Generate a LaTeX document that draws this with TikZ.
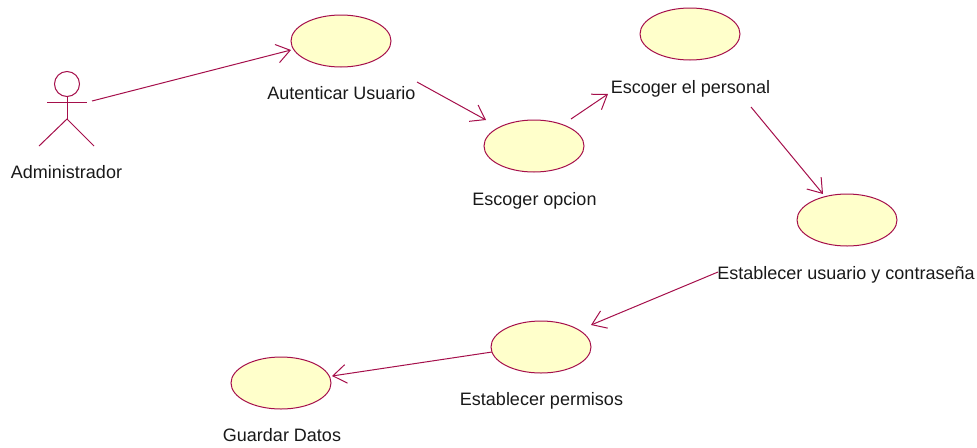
\documentclass[tikz,border=0pt]{standalone}
\usepackage{fontspec}
\setmainfont{Liberation Sans}
\usetikzlibrary{shapes.geometric,arrows.meta}
\definecolor{umlline}{RGB}{165,15,75}
\definecolor{umlfill}{RGB}{255,255,203}
\tikzset{
  usecase/.style={ellipse,draw=umlline,fill=umlfill,line width=0.75pt,minimum width=75pt,minimum height=39pt,inner sep=0pt},
  caselabel/.style={inner sep=0pt,font=\fontsize{13.5}{16}\selectfont,text=black!90},
  assoc/.style={draw=umlline,line width=0.75pt,-{Straight Barb[length=10pt,width=14pt]}},
  actorline/.style={draw=umlline,line width=0.75pt}
}
\begin{document}
\begin{tikzpicture}[x=0.75pt,y=-0.75pt]
\useasboundingbox (0,0) rectangle (977,447);
\node[circle,draw=umlline,line width=0.75pt,minimum size=18.75pt,inner sep=0pt] (adminhead) at (67,84) {};
\coordinate (adminhip) at (67,119);
\coordinate (adminhand) at (92,101);
\draw[actorline] (adminhead.south) -- (adminhip);
\draw[actorline] (47,102) -- (87,102);
\draw[actorline] (39,146) -- (adminhip) -- (94,146);
\node[caselabel] (adminlabel) at (66.5,172) {Administrador};

\node[usecase] (autenticar) at (341,41) {};
\node[usecase] (opcion) at (534,146) {};
\node[usecase] (personal) at (690,34) {};
\node[usecase] (usuario) at (847,220) {};
\node[usecase] (permisos) at (541,347) {};
\node[usecase] (guardar) at (281,383) {};

\node[caselabel] (autenticarlabel) at (341.5,93) {Autenticar Usuario};
\node[caselabel] (opcionlabel) at (534.5,201) {Escoger opcion};
\node[caselabel] (personallabel) at (690.5,89) {Escoger el personal};
\node[caselabel] (usuariolabel) at (846,275) {Establecer usuario y contraseña};
\node[caselabel] (permisoslabel) at (541.5,401) {Establecer permisos};
\node[caselabel] (guardarlabel) at (282,435) {Guardar Datos};

\coordinate (autenticarin) at (291,50);
\coordinate (autenticarout) at (417,82);
\coordinate (opcionin) at (486,120);
\coordinate (opcionout) at (571,119);
\coordinate (personalin) at (608,94);
\coordinate (personalout) at (751,107);
\coordinate (usuarioin) at (823,194);
\coordinate (usuarioout) at (718,272);
\coordinate (permisosin) at (591,325);
\coordinate (permisosout) at (492,352);
\coordinate (guardarin) at (332,376);

\draw[assoc] (adminhand) -- (autenticarin);
\draw[assoc] (autenticarout) -- (opcionin);
\draw[assoc] (opcionout) -- (personalin);
\draw[assoc] (personalout) -- (usuarioin);
\draw[assoc] (usuarioout) -- (permisosin);
\draw[assoc] (permisosout) -- (guardarin);
\end{tikzpicture}
\end{document}
